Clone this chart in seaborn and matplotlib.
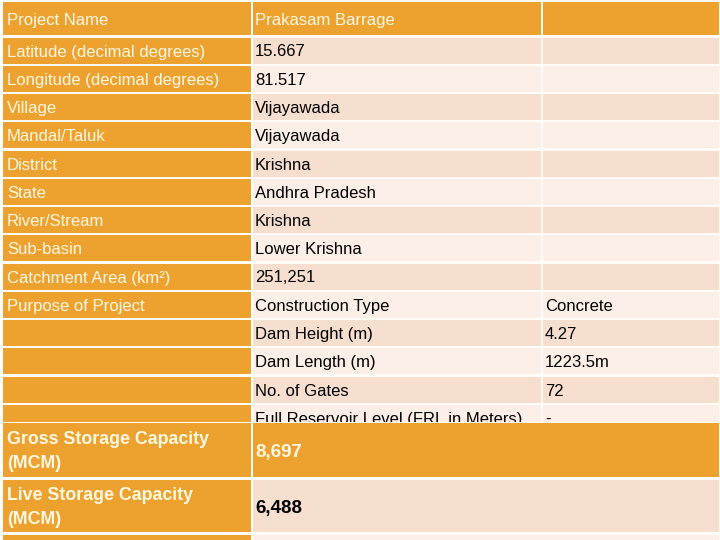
import matplotlib
matplotlib.use("Agg")
import matplotlib.pyplot as plt
from matplotlib.patches import Rectangle
import seaborn as sns

# table content
header = ["Project Name", "Prakasam Barrage", ""]
field_names = ["Latitude (decimal degrees)", "Longitude (decimal degrees)", "Village",
               "Mandal/Taluk", "District", "State", "River/Stream", "Sub-basin",
               "Catchment Area (km²)", "Purpose of Project"]
field_values = ["15.667", "81.517", "Vijayawada", "Vijayawada", "Krishna",
                "Andhra Pradesh", "Krishna", "Lower Krishna", "251,251", "Construction Type"]
purpose_value = "Concrete"
dam_fields = ["Dam Height (m)", "Dam Length (m)", "No. of Gates",
              "Full Reservoir Level (FRL in Meters)"]
dam_values = ["4.27", "1223.5m", "72", "-"]
storage_names = ["Gross Storage Capacity\n(MCM)", "Live Storage Capacity\n(MCM)"]
storage_values = ["8,697", "6,488"]

# colours
orange = "#EDA22F"
peach_dark = "#F7DFCF"
peach_light = "#FBEFE8"
cream_text = "#FFF8E2"
bg = "#FFFBF6"

sns.set_theme(style="white")
plt.rcParams['font.family'] = ['Liberation Sans', 'DejaVu Sans']

fig = plt.figure(figsize=(7.2, 5.4), dpi=100, facecolor=bg)
ax = fig.add_axes([0, 0, 1, 1])
ax.set_facecolor(bg)
ax.set_xlim(0, 720)
ax.set_ylim(540, 0)
ax.axis('off')

# column edges
cols = [(3, 250.5), (252.5, 540.5), (543, 719)]
pads = [4, 2.5, 2]
text_dy = 1.5


def cell(c0, c1, y0, h, color, z=1):
    x0 = cols[c0][0]
    x1 = cols[c1][1]
    ax.add_patch(Rectangle((x0, y0), x1 - x0, h, facecolor=color, edgecolor='none', zorder=z))


def label(c, y, s, color='black', z=2, **kw):
    return ax.text(cols[c][0] + pads[c], y + text_dy, s, color=color, va='center',
                   ha='left', fontsize=12, zorder=z, **kw)


# header
cell(0, 0, 2, 33, orange)
cell(1, 1, 2, 33, orange)
cell(2, 2, 2, 33, orange)
label(0, 18.5, header[0], color=cream_text)
label(1, 18.5, header[1], color=cream_text)

# body rows
pitch = 28.25
row_h = 26
top0 = 37.5
body_left = field_names + [""] * len(dam_fields)
body_mid = field_values + dam_fields
body_right = [""] * (len(field_values) - 1) + [purpose_value] + dam_values
for i, (a, b, c) in enumerate(zip(body_left, body_mid, body_right)):
    y0 = top0 + i * pitch
    shade = peach_dark if i % 2 == 0 else peach_light
    cell(0, 0, y0, row_h, orange)
    cell(1, 1, y0, row_h, shade)
    cell(2, 2, y0, row_h, shade)
    yc = y0 + row_h / 2
    if a:
        label(0, yc, a, color=cream_text)
    label(1, yc, b)
    if c:
        label(2, yc, c)

# storage rows (merged value cells) overlap the last dam row
storage_tops = [423, 480]
storage_hs = [54, 52]
storage_fill = [orange, peach_dark]
storage_txt = [cream_text, 'black']
ax.add_patch(Rectangle((0, 421.5), 720, 1.5, facecolor=bg, edgecolor='none', zorder=3))
for name, val, y0, h, fc, tc in zip(storage_names, storage_values, storage_tops,
                                    storage_hs, storage_fill, storage_txt):
    cell(0, 0, y0, h, orange, z=3)
    cell(1, 2, y0, h, fc, z=3)
    yc = y0 + h / 2
    ax.text(cols[0][0] + pads[0], yc + 1.5, name, color=cream_text, va='center', ha='left',
            fontsize=12.8, fontweight='bold', linespacing=1.6, zorder=4)
    ax.text(cols[1][0] + pads[1], yc + 2, val, color=tc, va='center', ha='left',
            fontsize=13.5, fontweight='bold', zorder=4)

# partial last row
cell(0, 0, 535, 10, orange, z=3)
cell(1, 2, 535, 10, peach_light, z=3)

plt.savefig("out.png", dpi=100, facecolor=bg)
plt.close()
